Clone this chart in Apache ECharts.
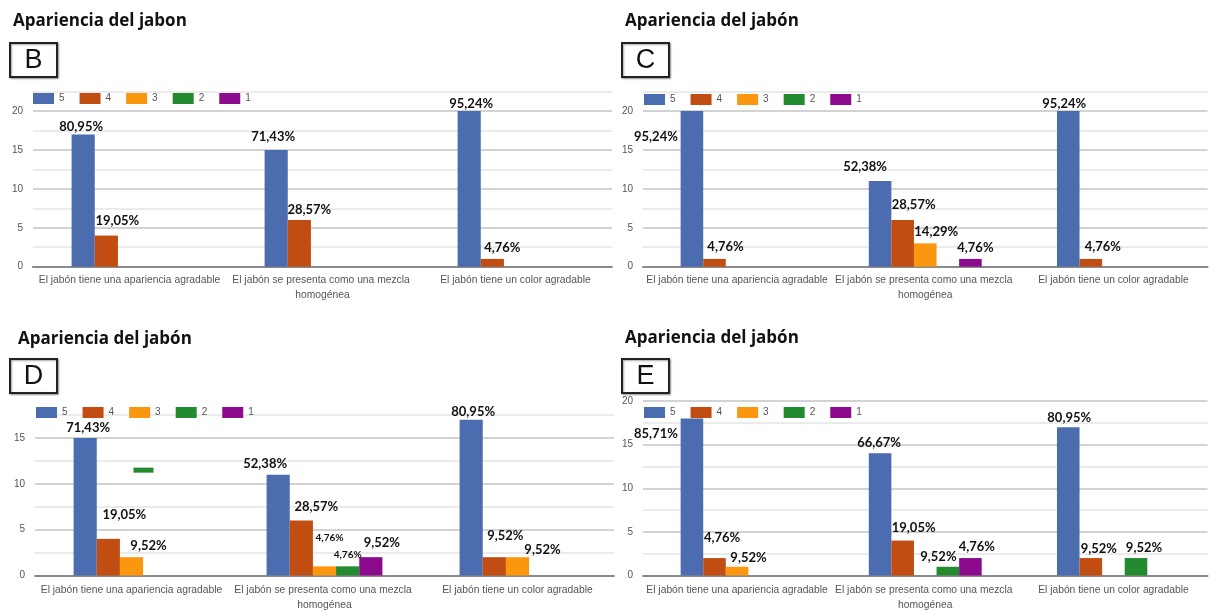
<!DOCTYPE html>
<html>
<head>
<meta charset="utf-8">
<script src="https://cdn.jsdelivr.net/npm/echarts@6/dist/echarts.min.js"></script>
<style>
  html, body { margin: 0; padding: 0; background: #ffffff; }
  #chart { width: 1210px; height: 613px; }
</style>
</head>
<body>
<div id="chart"></div>
<script>
// ---- Data -------------------------------------------------------------
const categories = [
  'El jabón tiene una apariencia agradable',
  'El jabón se presenta como una mezcla homogénea',
  'El jabón tiene un color agradable'
];
const ratings = ['5', '4', '3', '2', '1'];
const respondents = 21;

// Answer counts, one row per rating (5 … 1), one column per category
const countsB = [[17, 15, 20], [4, 6, 1], [0, 0, 0], [0, 0, 0], [0, 0, 0]];
const countsC = [[20, 11, 20], [1, 6, 1], [0, 3, 0], [0, 0, 0], [0, 1, 0]];
const countsD = [[15, 11, 17], [4, 6, 2], [2, 1, 2], [0, 1, 0], [0, 2, 0]];
const countsE = [[18, 14, 17], [2, 4, 2], [1, 0, 0], [0, 1, 2], [0, 2, 0]];

// Stray green dash in the first group of panel D
const strayMarkD = [11.5, null, null];

const panelTitles = ['Apariencia del jabon', 'Apariencia del jabón', 'Apariencia del jabón', 'Apariencia del jabón'];
const panelLetters = ['B', 'C', 'D', 'E'];

// ---- Styling & layout -------------------------------------------------
const colors = ['#4b6daf', '#c14d12', '#fb960f', '#238a30', '#8c0a8c'];

// label nudges [dx, dy] per rating row and category
const nudgeB = [[[-2, -1], [-3, -6], [2, 0]], [[11, -8], [10, -3], [10, -4]], [null, null, null], [null, null, null], [null, null, null]];
const nudgeC = [[[-36, 33], [-15, -7], [-4, 0]], [[11, -5], [11, -8], [12, -5]], [null, [11, -5], null], [null, null, null], [null, [5, -4], null]];
const nudgeD = [[[3, -3], [-13, -4], [2, -1]], [[16, -17], [15, -7], [11, -14]], [[17, -4], [5, -22], [25, 0]], [null, [0, -5], null], [null, [11, -7], null]];
const nudgeE = [[[-36, 22], [-1, -4], [1, -2]], [[34, 7], [11, -6], [8, -2]], [[-15, -22], null, null], [null, [29, -13], [8, -3]], [null, [-32, 6], null]];
const smallLabelsD = [[2, 1], [3, 1]];

const panels = [
  { counts: countsB, nudge: nudgeB, left: 33,  top: 91.6,  height: 175.1, max: 22.5, labelMargin: 5.5, titleX: 13,  titleY: 21,  boxX: 9,   boxY: 42,  legendX: 33,  legendY: 93 },
  { counts: countsC, nudge: nudgeC, left: 643, top: 91.6,  height: 175.1, max: 22.5, labelMargin: 5.5, titleX: 625, titleY: 21,  boxX: 621, boxY: 42,  legendX: 644, legendY: 94 },
  { counts: countsD, nudge: nudgeD, left: 35,  top: 415.2, height: 164.1, max: 17.5, labelMargin: 7.5, titleX: 18,  titleY: 339, boxX: 9,   boxY: 358, legendX: 36,  legendY: 407 },
  { counts: countsE, nudge: nudgeE, left: 643, top: 401,   height: 178.3, max: 20,   labelMargin: 7.5, titleX: 625, titleY: 338, boxX: 621, boxY: 358, legendX: 644, legendY: 407 }
];
const plotWidth = 579;

const pct = v => (v / respondents * 100).toFixed(2).replace('.', ',') + '%';

const grid = [], xAxis = [], yAxis = [], series = [], legend = [], title = [], graphic = [];

panels.forEach((p, pi) => {
  grid.push({ left: p.left, top: p.top, width: plotWidth, height: p.height, containLabel: false });
  xAxis.push({
    gridIndex: pi, type: 'category', data: categories,
    axisTick: { show: false },
    axisLine: { lineStyle: { color: '#8a8a8a', width: 2 } },
    axisLabel: {
      color: '#555', fontSize: 10.3, fontFamily: 'Liberation Sans, Arial, sans-serif',
      lineHeight: 15, margin: p.labelMargin, width: 192, overflow: 'break', interval: 0
    }
  });
  yAxis.push({
    gridIndex: pi, type: 'value', min: 0, max: p.max, interval: 2.5,
    axisLine: { show: false }, axisTick: { show: false },
    axisLabel: {
      color: '#555', fontSize: 10, fontFamily: 'Liberation Sans, Arial, sans-serif', margin: 10,
      formatter: v => (v % 5 === 0 ? String(v) : '')
    },
    splitLine: { lineStyle: { color: ['#c4c4c4', '#e4e4e4'], width: 1.5 } }
  });

  ratings.forEach((r, si) => {
    series.push({
      name: r, type: 'bar', xAxisIndex: pi, yAxisIndex: pi,
      barGap: '0%', barCategoryGap: '40%',
      itemStyle: { color: colors[si] },
      data: p.counts[si].map((v, ci) => {
        const n = p.nudge[si][ci];
        const small = pi === 2 && smallLabelsD.some(([s, c]) => s === si && c === ci);
        return {
          value: v,
          label: {
            show: v > 0, position: 'top', distance: 0,
            offset: n || [0, 0],
            formatter: d => pct(d.value),
            color: '#111', fontWeight: 'bold',
            fontSize: small ? 10 : 13, lineHeight: 14,
            fontFamily: 'Lato, Liberation Sans, sans-serif'
          }
        };
      })
    });
  });

  legend.push({
    left: p.legendX, top: p.legendY, data: ratings, padding: 0,
    icon: 'rect', itemWidth: 21, itemHeight: 11, itemGap: 15,
    textStyle: { color: '#555', fontSize: 10, fontFamily: 'Liberation Sans, Arial, sans-serif' },
    selectedMode: false
  });

  title.push({
    text: panelTitles[pi], left: p.titleX, top: p.titleY - 11, padding: 0,
    textStyle: { color: '#111', fontSize: 17, fontWeight: 'bold', fontFamily: 'Open Sans, sans-serif', lineHeight: 22 }
  });

  graphic.push({
    type: 'group', left: p.boxX, top: p.boxY,
    children: [
      { type: 'rect', shape: { x: 0, y: 0, width: 47, height: 34 },
        style: { fill: '#fff', stroke: '#222', lineWidth: 2, shadowBlur: 2, shadowOffsetX: 1, shadowOffsetY: 1, shadowColor: 'rgba(0,0,0,0.35)' } },
      { type: 'text', x: 23.5, y: 17.5,
        style: { text: panelLetters[pi], fill: '#111', font: '27px "Liberation Sans", Arial, sans-serif', align: 'center', verticalAlign: 'middle' } }
    ]
  });
});

// stray dash of series "2" in panel D
series.push({
  name: '2', type: 'scatter', xAxisIndex: 2, yAxisIndex: 2,
  symbol: 'rect', symbolSize: [20, 5], symbolOffset: [12, 0],
  itemStyle: { color: colors[3], opacity: 1 }, silent: true, z: 3,
  data: strayMarkD
});

const chart = echarts.init(document.getElementById('chart'), null, { renderer: 'canvas' });
chart.setOption({
  backgroundColor: '#ffffff',
  animation: false,
  title, grid, xAxis, yAxis, legend, series, graphic
});
</script>
</body>
</html>
